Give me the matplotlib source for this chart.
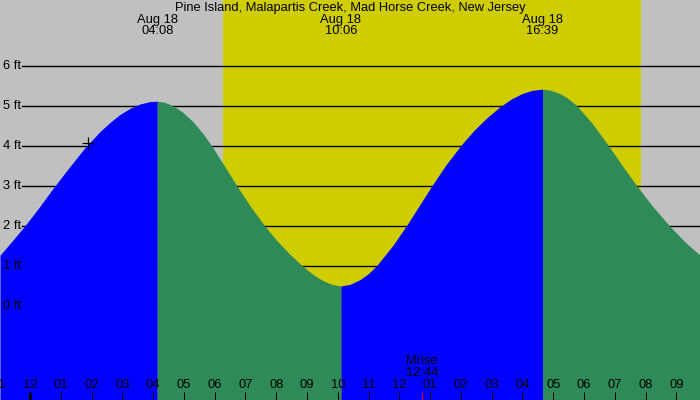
import matplotlib
matplotlib.use("Agg")
import matplotlib.pyplot as plt
import matplotlib.transforms as mtransforms

# ---------------- data ----------------
title = "Pine Island, Malapartis Creek, Mad Horse Creek, New Jersey"
date_label = "Aug 18"

# hours after Aug 18 00:00, tide height in ft
times = [-0.975, -0.585, -0.162, 0.300, 0.757, 1.260, 1.787, 2.274, 2.599, 2.924,
         3.249, 3.574, 3.899, 4.1333, 4.386, 4.656, 4.971, 5.305, 5.621, 5.923,
         6.335, 6.748, 7.180, 7.658, 8.025, 8.447, 8.912, 9.227, 9.529, 9.812,
         10.100, 10.396, 10.721, 10.981, 11.264, 11.793, 12.258, 12.638, 13.051, 13.515,
         14.003, 14.425, 14.848, 15.270, 15.627, 15.984, 16.309, 16.650, 16.894, 17.219,
         17.479, 17.762, 18.259, 18.756, 19.233, 19.688, 20.208, 20.770, 21.280, 21.767]
heights = [1.27, 1.62, 2.01, 2.47, 2.95, 3.45, 3.96, 4.36, 4.59, 4.79,
           4.94, 5.05, 5.11, 5.12, 5.09, 5.00, 4.84, 4.60, 4.31, 3.98,
           3.48, 2.97, 2.47, 1.97, 1.63, 1.29, 0.96, 0.77, 0.63, 0.54,
           0.50, 0.54, 0.66, 0.80, 1.01, 1.52, 2.04, 2.50, 3.00, 3.53,
           4.02, 4.39, 4.71, 4.98, 5.17, 5.31, 5.39, 5.42, 5.40, 5.31,
           5.19, 5.01, 4.57, 4.05, 3.52, 3.03, 2.51, 2.01, 1.60, 1.27]

extreme_labels = ["04:08", "10:06", "16:39"]
sunrise = "06:16"
sunset = "19:51"
moonrise = "12:44"
moon_label = "Mrise"
marker_time = 1.894
marker_height = 4.08

hour_ticks = list(range(-1, 22))
hour_tick_labels = ["11", "12", "01", "02", "03", "04", "05", "06", "07", "08", "09", "10",
                    "11", "12", "01", "02", "03", "04", "05", "06", "07", "08", "09"]
level_ticks = [0, 1, 2, 3, 4, 5, 6]
level_labels = ["0 ft", "1 ft", "2 ft", "3 ft", "4 ft", "5 ft", "6 ft"]


def hrs(s):
    h, m = s.split(":")
    return int(h) + int(m) / 60.0


# ---------------- style ----------------
plt.rcParams["font.family"] = ["Liberation Sans", "DejaVu Sans"]
FS = 9.3
GREY = "#C0C0C0"
DAY = "#CFCD00"
RISE = "#0000FF"
FALL = "#2E8B57"
PX = 0.72  # one pixel in points at 100 dpi

fig = plt.figure(figsize=(7, 4), dpi=100)
ax = fig.add_axes([0, 0, 1, 1])
ax.set_xlim(-0.975, 21.767)
ax.set_ylim(-2.35, 7.65)
ax.set_facecolor(GREY)
ax.set_xticks([])
ax.set_yticks([])
for s in ax.spines.values():
    s.set_visible(False)

bx = mtransforms.blended_transform_factory(ax.transData, ax.transAxes)
by = mtransforms.blended_transform_factory(ax.transAxes, ax.transData)

# daylight
ax.axvspan(hrs(sunrise), hrs(sunset), color=DAY, lw=0, zorder=0)

# level lines
for lv in level_ticks:
    ax.axhline(lv, xmin=22 / 700, xmax=1, color="black", lw=1.4 * PX, zorder=1)

# tide fill split at the extremes
ext_times = [hrs(s) for s in extreme_labels]
bounds = [0] + [min(range(len(times)), key=lambda i: abs(times[i] - t)) for t in ext_times] + [len(times) - 1]
base = ax.get_ylim()[0]
for a, b in zip(bounds[:-1], bounds[1:]):
    seg_t = times[a:b + 1]
    seg_h = heights[a:b + 1]
    col = RISE if seg_h[-1] > seg_h[0] else FALL
    ax.fill_between(seg_t, seg_h, base, color=col, lw=0, zorder=2)

# level labels
for lv, lab in zip(level_ticks, level_labels):
    ax.text(3 / 700, lv, lab, transform=by, ha="left", va="center", fontsize=FS, zorder=5)

# hour ticks
for h, lab in zip(hour_ticks, hour_tick_labels):
    w = 3 if lab == "12" and h % 24 == 0 else 1
    ax.plot([h, h], [0, 8 / 400], transform=bx, color="black", lw=w * PX,
            solid_capstyle="butt", zorder=4)
    ax.text(h, 1 - 385.5 / 400, lab, transform=bx, ha="center", va="center", fontsize=FS, zorder=5)

# moonrise
mt = hrs(moonrise)
ax.plot([mt, mt], [0, 8 / 400], transform=bx, color="red", lw=1 * PX, solid_capstyle="butt", zorder=4)
ax.text(mt, 1 - 361.5 / 400, moon_label, transform=bx, ha="center", va="center", fontsize=FS, zorder=5)
ax.text(mt, 1 - 373.5 / 400, moonrise, transform=bx, ha="center", va="center", fontsize=FS, zorder=5)

# extreme labels
for t, lab in zip(ext_times, extreme_labels):
    ax.text(t, 1 - 20 / 400, date_label, transform=bx, ha="center", va="center", fontsize=FS, zorder=5)
    ax.text(t, 1 - 31 / 400, lab, transform=bx, ha="center", va="center", fontsize=FS, zorder=5)

# title
ax.text(0.5, 1 - 7.5 / 400, title, transform=ax.transAxes, ha="center", va="center", fontsize=FS, zorder=5)

# current-time marker
ax.plot([marker_time], [marker_height], marker="+", color="black", ms=9, mew=1.2 * PX, zorder=6)

fig.savefig("out.png", dpi=100)
